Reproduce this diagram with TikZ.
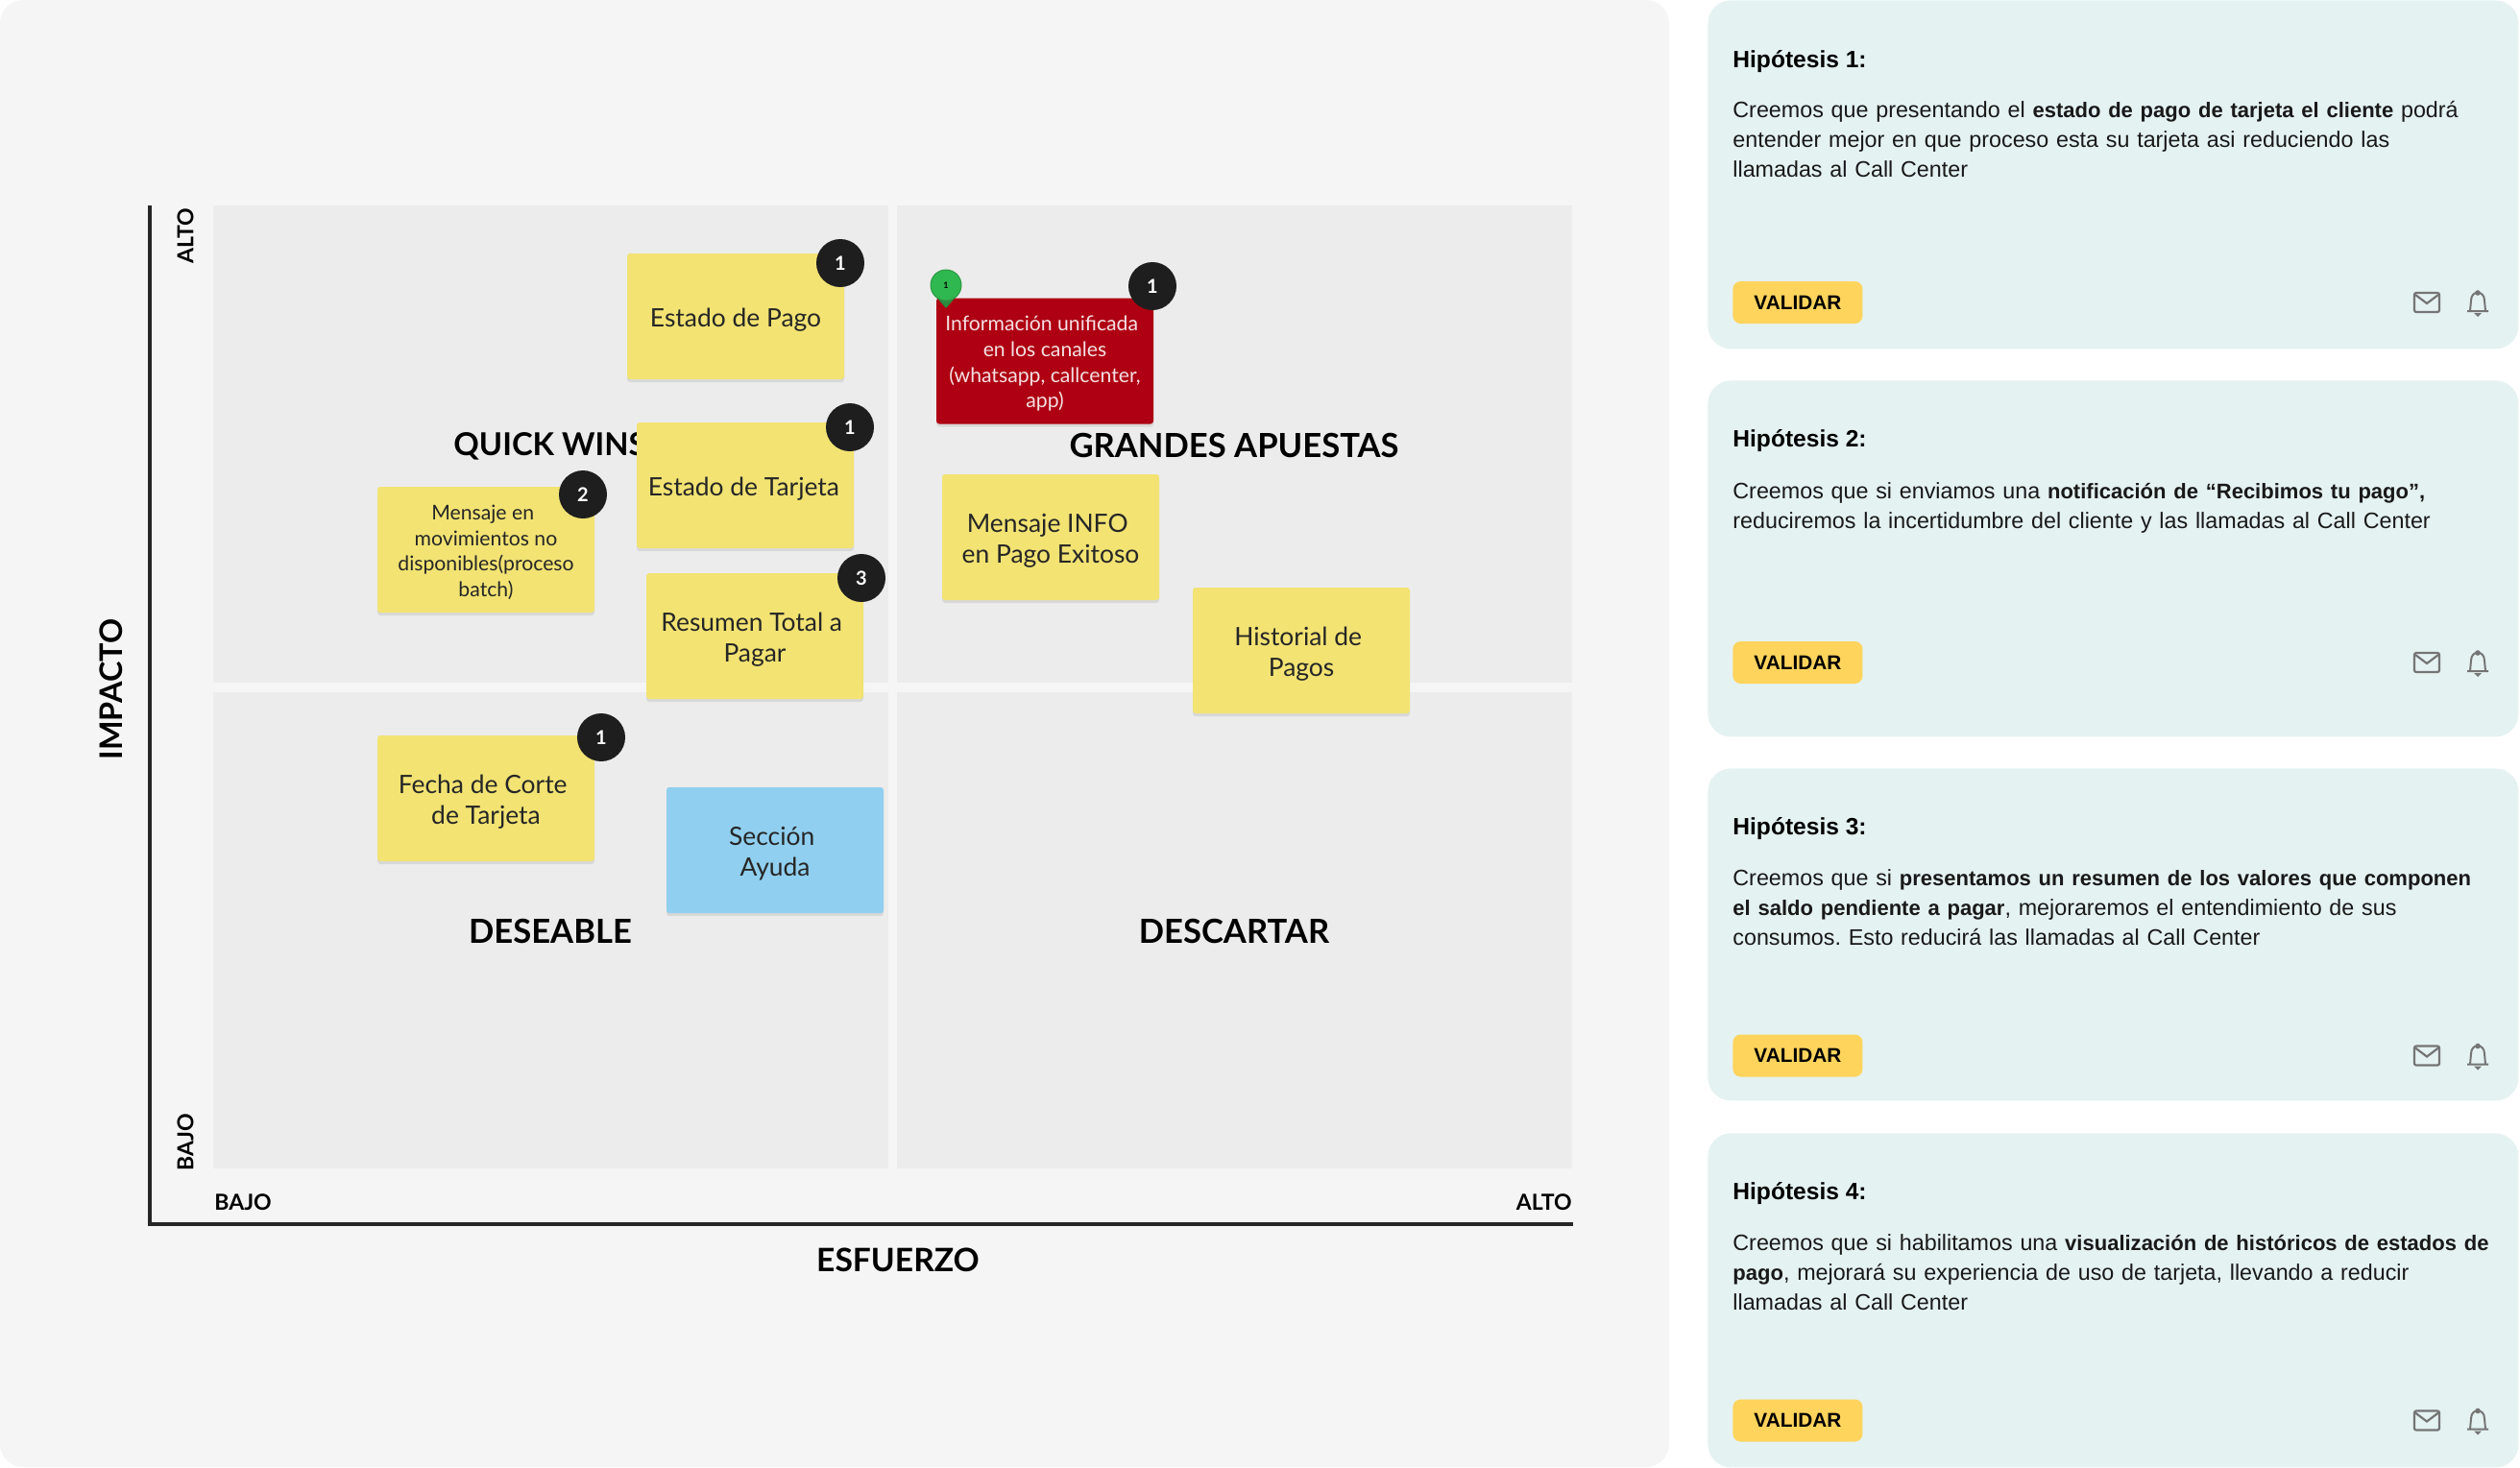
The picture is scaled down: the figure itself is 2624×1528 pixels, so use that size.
\documentclass[tikz,border=0pt]{standalone}
\usepackage{fontspec}
\setmainfont{Liberation Sans}[BoldFeatures={Scale=0.945}]
\newfontfamily\notefont{Lato}
\usetikzlibrary{shadows}
\definecolor{panelgray}{HTML}{F5F5F5}
\definecolor{quadgray}{HTML}{ECECEC}
\definecolor{noteyellow}{HTML}{F2E373}
\definecolor{noteblue}{HTML}{90CFEF}
\definecolor{notered}{HTML}{AE0012}
\definecolor{cardteal}{HTML}{E4F2F1}
\definecolor{btnyellow}{HTML}{FFD45C}
\definecolor{badgeblack}{HTML}{1E1E1E}
\definecolor{icongray}{HTML}{757575}
\definecolor{pingreen}{HTML}{2FB84F}
\definecolor{pindark}{HTML}{2C8A3E}

% icons on one card, y is the middle of the row
\newcommand{\cardicons}[1]{
  \draw[icongray, line width=1.1pt, rounded corners=1pt] (2514,#1-10) rectangle (2540,#1+10);
  \draw[icongray, line width=1.1pt] (2515,#1-8) -- (2527,#1+1) -- (2539,#1-8);
  \draw[icongray, line width=1pt, line join=round] (2569,#1+9) -- (2591,#1+9) (2572,#1+9) -- (2573,#1-2) .. controls (2573,#1-13) and (2587,#1-13) .. (2587,#1-2) -- (2588,#1+9);
  \fill[icongray] (2580,#1-10) circle (1.4pt);
  \fill[icongray] (2576,#1+11) -- (2584,#1+11) -- (2580,#1+15) -- cycle;
}
% lines in the notes keep a trailing blank, \lift sets the text a bit lower
\newcommand{\tsp}{\hspace*{3.3pt}}
\newcommand{\lift}{\rule{0pt}{1em}}

\begin{document}
\begin{tikzpicture}[
    x=0.5pt, y=-0.5pt,
    quad/.style={rectangle, fill=quadgray, minimum width=351.5pt, minimum height=248.25pt, inner sep=0pt},
    quadlabel/.style={font=\notefont\bfseries\fontsize{17.3}{20}\selectfont, inner sep=0pt},
    note/.style={rectangle, fill=noteyellow, rounded corners=1.5pt, minimum width=113pt, minimum height=65.5pt, inner sep=0pt, align=center,
        font=\notefont\fontsize{13.2}{16.2}\selectfont, text=black!85,
        drop shadow={opacity=0.18, shadow xshift=0pt, shadow yshift=-1.5pt}},
    small/.style={font=\notefont\fontsize{10.6}{13.4}\selectfont},
    badge/.style={circle, fill=badgeblack, text=white, minimum size=25pt, inner sep=0pt, font=\notefont\bfseries\fontsize{10}{10}\selectfont},
    axis/.style={line width=2pt, black!85},
    axislabel/.style={font=\notefont\bfseries\fontsize{11.5}{13}\selectfont, inner sep=0pt},
    axistitle/.style={font=\notefont\bfseries\fontsize{16.2}{18}\selectfont, inner sep=0pt},
    card/.style={rectangle, fill=cardteal, rounded corners=12pt, minimum width=422pt, inner sep=0pt, anchor=north west},
    cardtitle/.style={font=\bfseries\fontsize{13}{14}\selectfont, inner sep=0pt, anchor=west},
    cardtext/.style={font=\frenchspacing\fontsize{11.65}{15.5}\selectfont, inner sep=0pt, anchor=north west, align=left, text width=400pt, text=black!90},
    btn/.style={rectangle, fill=btnyellow, rounded corners=4pt, minimum width=67.5pt, minimum height=22pt, inner sep=0pt, anchor=west, font=\bfseries\fontsize{11}{12}\selectfont}
]
\useasboundingbox (0,0) rectangle (2624,1528);

% matrix panel
\fill[panelgray, rounded corners=12pt] (0,0) rectangle (1738,1528);
\node[quad] (qwins) at (573,462.5) {};
\node[quad] (qbets) at (1285.5,462.5) {};
\node[quad] (qnice) at (573,969) {};
\node[quad] (qdrop) at (1285.5,969) {};

\node[quadlabel, anchor=west, font=\notefont\bfseries\fontsize{16.4}{20}\selectfont] (lwins) at (472,464.5) {QUICK WINS};
\node[quadlabel] (lbets) at (1285,463.5) {GRANDES APUESTAS};
\node[quadlabel] (lnice) at (573,970) {DESEABLE};
\node[quadlabel] (ldrop) at (1285,970) {DESCARTAR};

% axes
\coordinate (origin) at (156,1275);
\coordinate (ytop) at (156,214);
\coordinate (xend) at (1638,1275);
\draw[axis] (ytop) -- (origin) -- (xend);
\node[axislabel, rotate=90] (yhigh) at (193,246) {ALTO};
\node[axislabel, rotate=90] (ylow) at (193,1190) {BAJO};
\node[axislabel, anchor=west] (xlow) at (223,1252.5) {BAJO};
\node[axislabel, anchor=east] (xhigh) at (1637,1252.5) {ALTO};
\node[axistitle, rotate=90] (impacto) at (116,718) {IMPACTO};
\node[axistitle, font=\notefont\bfseries\fontsize{16.8}{18}\selectfont] (esfuerzo) at (935,1312.5) {ESFUERZO};

% notes
\node[note] (pago) at (766,329.5) {\lift Estado de Pago};
\node[note] (tarjeta) at (776,505.5) {\lift Estado de Tarjeta\hspace*{1.6pt}};
\node[note, small] (mensaje) at (506,572.5) {\lift Mensaje en\tsp\\movimientos no\tsp\\disponibles(proceso\tsp\\batch)};
\node[note] (resumen) at (786,662.5) {\lift Resumen Total a\tsp\\Pagar};
\node[note] (fecha) at (506,831.5) {\lift Fecha de Corte\tsp\\de Tarjeta};
\node[note, fill=noteblue] (ayuda) at (807,885.5) {\lift Sección\tsp\\Ayuda};
\node[note, small, fill=notered, text=white!88!notered] (info) at (1088,376) {\lift Información unificada\tsp\\en los canales\tsp\\(whatsapp, callcenter,\tsp\\app)};
\node[note] (infopago) at (1094,559.5) {\lift Mensaje INFO\tsp\\en Pago Exitoso};
\node[note] (historial) at (1355,677.5) {\lift Historial de\tsp\\Pagos};

\node[badge] (bpago) at (875,274) {1};
\node[badge] (btarjeta) at (885,445) {1};
\node[badge] (bmensaje) at (607,515) {2};
\node[badge] (bresumen) at (897,602) {3};
\node[badge] (bfecha) at (626,768) {1};
\node[badge] (binfo) at (1200,298) {1};

% green pin
\fill[pindark] (972,306) -- (985,321) -- (998,306) -- cycle;
\node[circle, fill=pingreen, draw=pindark!70!pingreen, line width=0.5pt, minimum size=16pt, inner sep=0pt, font=\notefont\bfseries\fontsize{4.5}{5}\selectfont] (pin) at (985,297) {1};

% hypothesis cards
\node[card, minimum height=181.5pt] (card1) at (1778,0) {};
\node[card, minimum height=185.5pt] (card2) at (1778,396) {};
\node[card, minimum height=173pt] (card3) at (1778,800) {};
\node[card, minimum height=174pt] (card4) at (1778,1180) {};

\node[cardtitle] (t1) at (1804,64) {Hipótesis 1:};
\node[cardtitle] (t2) at (1804,459) {Hipótesis 2:};
\node[cardtitle] (t3) at (1804,863) {Hipótesis 3:};
\node[cardtitle] (t4) at (1804,1243) {Hipótesis 4:};

\node[cardtext] (b1) at (1804,105) {Creemos que presentando el \textbf{estado de pago de tarjeta el cliente} podrá\\entender mejor en que proceso esta su tarjeta asi reduciendo las\\llamadas al Call Center};
\node[cardtext] (b2) at (1804,502) {Creemos que si enviamos una \textbf{notificación de “Recibimos tu pago”,}\\reduciremos la incertidumbre del cliente y las llamadas al Call Center};
\node[cardtext] (b3) at (1804,905) {Creemos que si \textbf{presentamos un resumen de los valores que componen}\\\textbf{el saldo pendiente a pagar}, mejoraremos el entendimiento de sus\\consumos. Esto reducirá las llamadas al Call Center};
\node[cardtext] (b4) at (1804,1285) {Creemos que si habilitamos una \textbf{visualización de históricos de estados de}\\\textbf{pago}, mejorará su experiencia de uso de tarjeta, llevando a reducir\\llamadas al Call Center};

\node[btn] (v1) at (1804,315) {VALIDAR};
\node[btn] (v2) at (1804,690) {VALIDAR};
\node[btn] (v3) at (1804,1099.5) {VALIDAR};
\node[btn] (v4) at (1804,1479.5) {VALIDAR};

\foreach \rowy in {315,690,1099.5,1479.5}{
  \cardicons{\rowy}
}
\end{tikzpicture}
\end{document}
